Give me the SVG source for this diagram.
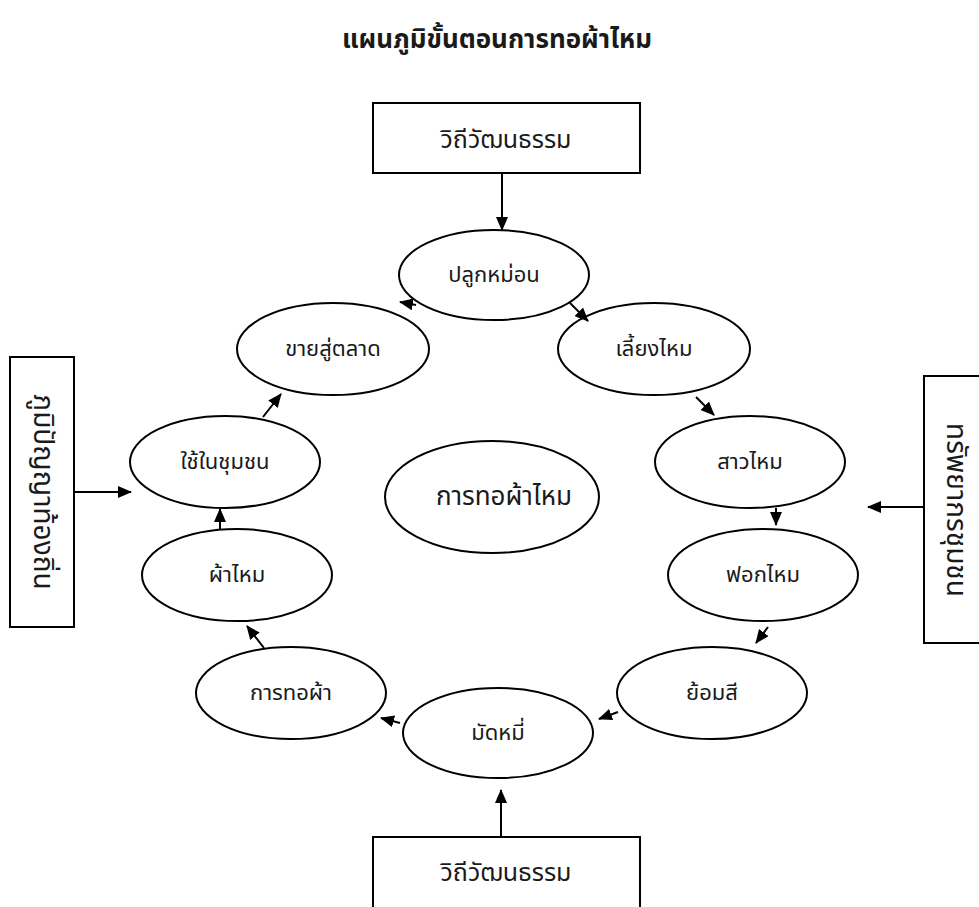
<svg xmlns="http://www.w3.org/2000/svg" width="979" height="907" viewBox="0 0 979 907">
<style>
text{font-family:"Noto Sans Thai","Noto Sans","DejaVu Sans",sans-serif;fill:#1a1a1a;text-anchor:middle;dominant-baseline:central}
.t{font-size:22px}
.b{font-size:25px}
.s{font-size:28px}
.e{fill:#fff;stroke:#000;stroke-width:2}
.r{fill:#fff;stroke:#000;stroke-width:2}
.c line{stroke:#000;stroke-width:2}
</style>
<defs>
<marker id="a" markerUnits="userSpaceOnUse" markerWidth="14" markerHeight="12" refX="13" refY="6" orient="auto">
<path d="M0,0 L14,6 L0,12 Z" fill="#000"/>
</marker>
</defs>
<rect width="979" height="907" fill="#fff"/>
<text x="497" y="40" style="font-size:26px;font-weight:bold">แผนภูมิขั้นตอนการทอผ้าไหม</text>

<g id="box-top"><rect class="r" x="373" y="103" width="267" height="70"/><text class="b" x="506" y="140">วิถีวัฒนธรรม</text></g>
<g id="box-bottom"><rect class="r" x="373" y="837" width="267" height="80"/><text class="b" x="506" y="873">วิถีวัฒนธรรม</text></g>
<g id="box-left"><rect class="r" x="10" y="357" width="64" height="270"/><text class="s" transform="translate(42 492) rotate(90)">ภูมิปัญญาท้องถิ่น</text></g>
<g id="box-right"><rect class="r" x="924" y="376" width="70" height="267"/><text class="s" transform="translate(955 510) rotate(90)">ทรัพยากรชุมชน</text></g>

<g id="n1"><ellipse class="e" cx="494" cy="275" rx="95" ry="45"/><text class="t" x="494" y="275">ปลูกหม่อน</text></g>
<g id="n2"><ellipse class="e" cx="654" cy="349" rx="96" ry="46"/><text class="t" x="654" y="349">เลี้ยงไหม</text></g>
<g id="n3"><ellipse class="e" cx="750" cy="462" rx="95" ry="46"/><text class="t" x="750" y="462">สาวไหม</text></g>
<g id="n4"><ellipse class="e" cx="763" cy="575" rx="95" ry="46"/><text class="t" x="763" y="575">ฟอกไหม</text></g>
<g id="n5"><ellipse class="e" cx="712" cy="693" rx="95" ry="46"/><text class="t" x="712" y="693">ย้อมสี</text></g>
<g id="n6"><ellipse class="e" cx="498" cy="733" rx="95" ry="45"/><text class="t" x="498" y="733">มัดหมี่</text></g>
<g id="n7"><ellipse class="e" cx="291" cy="693" rx="95" ry="46"/><text class="t" x="291" y="693">การทอผ้า</text></g>
<g id="n8"><ellipse class="e" cx="237" cy="575" rx="95" ry="46"/><text class="t" x="237" y="575">ผ้าไหม</text></g>
<g id="n9"><ellipse class="e" cx="225" cy="462" rx="95" ry="46"/><text class="t" x="225" y="462">ใช้ในชุมชน</text></g>
<g id="n10"><ellipse class="e" cx="333" cy="349" rx="96" ry="46"/><text class="t" x="333" y="349">ขายสู่ตลาด</text></g>
<g id="center"><ellipse class="e" cx="492" cy="497" rx="107" ry="56"/><text x="504" y="497" style="font-size:26px">การทอผ้าไหม</text></g>

<g class="c" id="connectors">
<line x1="502" y1="173" x2="502" y2="230" marker-end="url(#a)"/>
<line x1="501" y1="837" x2="501" y2="790" marker-end="url(#a)"/>
<line x1="74" y1="492" x2="131" y2="492" marker-end="url(#a)"/>
<line x1="924" y1="507" x2="868" y2="507" marker-end="url(#a)"/>
<line x1="570" y1="303" x2="588" y2="321" marker-end="url(#a)"/>
<line x1="696" y1="397" x2="714" y2="415" marker-end="url(#a)"/>
<line x1="776" y1="508" x2="776" y2="525" marker-end="url(#a)"/>
<line x1="768" y1="627" x2="756" y2="643" marker-end="url(#a)"/>
<line x1="618" y1="712" x2="599" y2="719" marker-end="url(#a)"/>
<line x1="400" y1="723" x2="381" y2="718" marker-end="url(#a)"/>
<line x1="264" y1="648" x2="247" y2="626" marker-end="url(#a)"/>
<line x1="220" y1="529" x2="220" y2="509" marker-end="url(#a)"/>
<line x1="263" y1="417" x2="281" y2="394" marker-end="url(#a)"/>
<line x1="416" y1="305" x2="400" y2="302" marker-end="url(#a)"/>
</g>
</svg>
